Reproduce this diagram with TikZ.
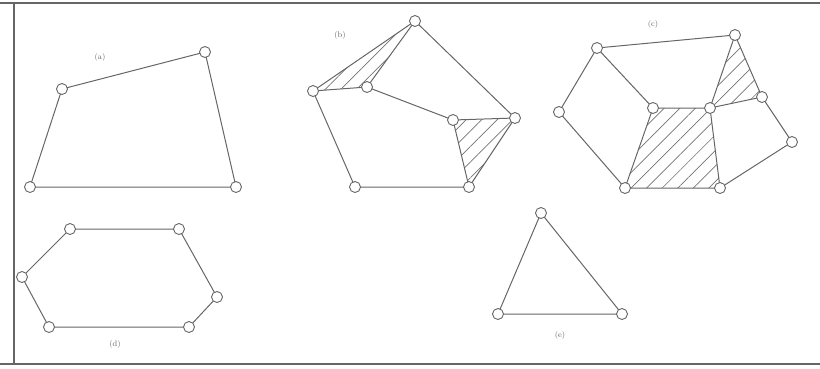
\documentclass[tikz,border=0pt]{standalone}
\usetikzlibrary{patterns.meta}
\begin{document}
\begin{tikzpicture}[x=1pt,y=-1pt,
  vtx/.style={circle,draw=black!60,fill=white,line width=0.9pt,inner sep=0pt,minimum size=11pt},
  edge/.style={draw=black!60,line width=1pt},
  hatch/.style={pattern={Lines[angle=45,distance=11pt,line width=0.7pt]},pattern color=black!55},
  lbl/.style={font=\fontsize{8}{9}\selectfont,text=black!60},
  frame/.style={draw=black!60}]
\useasboundingbox (0,0) rectangle (820,368);
% frame
\coordinate (ftl) at (0,3); \coordinate (ftr) at (820,3);
\coordinate (flt) at (14,3); \coordinate (flb) at (14,364);
\coordinate (fbl) at (0,364); \coordinate (fbr) at (820,364);
\draw[frame,line width=2.5pt] (ftl) -- (ftr);
\draw[frame,line width=1.5pt] (flt) -- (flb);
\draw[frame,line width=2pt] (fbl) -- (fbr);

% (a)
\coordinate (a1) at (62,89); \coordinate (a2) at (205,52);
\coordinate (a3) at (236,187); \coordinate (a4) at (30,187);
\node[lbl] (la) at (100,57) {(a)};
\draw[edge] (a1) -- (a2) -- (a3) -- (a4) -- cycle;
\foreach \p in {a1,a2,a3,a4} \node[vtx] (n\p) at (\p) {};

% (b)
\coordinate (b1) at (415,21); \coordinate (b2) at (313,91);
\coordinate (b3) at (367,87); \coordinate (b4) at (453,120);
\coordinate (b5) at (515,118); \coordinate (b6) at (469,187);
\coordinate (b7) at (355,187);
\node[lbl] (lb) at (340,35) {(b)};
\fill[hatch] (b2) -- (b1) -- (b3) -- cycle;
\fill[hatch] (b4) -- (b5) -- (b6) -- cycle;
\draw[edge] (b2) -- (b1) -- (b3) -- cycle;
\draw[edge] (b1) -- (b5) -- (b6) -- (b7) -- (b2);
\draw[edge] (b3) -- (b4) -- (b5);
\draw[edge] (b4) -- (b6);
\foreach \p in {b1,b2,b3,b4,b5,b6,b7} \node[vtx] (n\p) at (\p) {};

% (c)
\coordinate (cA) at (597,48); \coordinate (cB) at (735,35);
\coordinate (cC) at (559,112); \coordinate (cD) at (653,108);
\coordinate (cE) at (710,108); \coordinate (cF) at (762,97);
\coordinate (cG) at (792,142); \coordinate (cH) at (625,188);
\coordinate (cI) at (720,188);
\node[lbl] (lc) at (653,24) {(c)};
\fill[hatch] (cB) -- (cE) -- (cF) -- cycle;
\fill[hatch] (cD) -- (cE) -- (cI) -- (cH) -- cycle;
\draw[edge] (cA) -- (cB) -- (cF) -- (cG) -- (cI) -- (cH) -- (cC) -- cycle;
\draw[edge] (cA) -- (cD) -- (cE) -- (cF);
\draw[edge] (cB) -- (cE) -- (cI);
\draw[edge] (cD) -- (cH);
\foreach \p in {cA,cB,cC,cD,cE,cF,cG,cH,cI} \node[vtx] (n\p) at (\p) {};

% (d)
\coordinate (d1) at (70,229); \coordinate (d2) at (179,229);
\coordinate (d3) at (217,297); \coordinate (d4) at (189,327);
\coordinate (d5) at (49,327); \coordinate (d6) at (22,277);
\node[lbl] (ld) at (115,344) {(d)};
\draw[edge] (d1) -- (d2) -- (d3) -- (d4) -- (d5) -- (d6) -- cycle;
\foreach \p in {d1,d2,d3,d4,d5,d6} \node[vtx] (n\p) at (\p) {};

% (e)
\coordinate (e1) at (541,213); \coordinate (e2) at (622,314);
\coordinate (e3) at (498,314);
\node[lbl] (le) at (560,335) {(e)};
\draw[edge] (e1) -- (e2) -- (e3) -- cycle;
\foreach \p in {e1,e2,e3} \node[vtx] (n\p) at (\p) {};
\end{tikzpicture}
\end{document}
